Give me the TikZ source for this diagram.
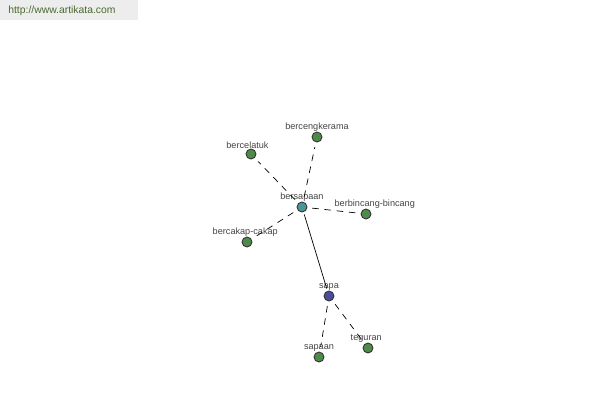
\documentclass[tikz,border=0pt]{standalone}
\usepackage{fontspec}
\setmainfont{Liberation Sans}
\definecolor{leafgreen}{HTML}{4E8A4A}
\definecolor{hubteal}{HTML}{4A9696}
\definecolor{rootblue}{HTML}{4A4E9A}
\definecolor{urlgreen}{HTML}{4A6A2E}
\definecolor{textgray}{HTML}{444444}
\tikzset{
  word/.style={circle, draw=black!80, line width=0.5pt, inner sep=0pt, minimum size=0.2cm, fill=leafgreen},
  lbl/.style={font=\fontsize{5.2}{6}\selectfont, text=textgray, inner sep=1pt},
  weak/.style={dashed, dash pattern=on 3.5pt off 3.5pt, shorten >=0.1cm, shorten <=0.1cm},
  strong/.style={shorten >=0.05cm, shorten <=0.05cm}
}

\begin{document}
\begin{tikzpicture}[thin, x=0.02cm, y=-0.02cm, line cap=round, line join=round]
    \useasboundingbox (0,0) rectangle (600,400);
    \fill[black!7] (0,0) rectangle (138,20);
    \draw(8,11) node[anchor=west, inner sep=0pt, font=\fontsize{5.9}{7}\selectfont, text=urlgreen] (url) {http://www.artikata.com};
    \draw(302,207) node[word, fill=hubteal, label={[lbl, yshift=-1pt]above:bersapaan}] (n0) {};
    \draw(329,296) node[word, fill=rootblue, label={[lbl, yshift=-1pt]above:sapa}] (n1) {};
    \draw(317,137) node[word, label={[lbl, yshift=-1pt]above:bercengkerama}] (n2) {};
    \draw(251,154) node[word, label={[lbl, yshift=-1pt, xshift=-2pt]above:bercelatuk}] (n3) {};
    \draw(366,214) node[word, label={[lbl, yshift=-1pt, xshift=5pt]above:berbincang-bincang}] (n4) {};
    \draw(247,242) node[word, label={[lbl, yshift=-1pt, xshift=-1pt]above:bercakap-cakap}] (n5) {};
    \draw(319,357) node[word, label={[lbl, yshift=-1pt]above:sapaan}] (n6) {};
    \draw(368,348) node[word, label={[lbl, yshift=-1pt, xshift=-1pt]above:teguran}] (n7) {};
    \draw[strong] (n0) -- (n1);
    \draw[weak] (n0) -- (n2);
    \draw[weak] (n0) -- (n3);
    \draw[weak] (n0) -- (n4);
    \draw[weak] (n0) -- (n5);
    \draw[weak] (n1) -- (n6);
    \draw[weak] (n1) -- (n7);
\end{tikzpicture}
\end{document}
